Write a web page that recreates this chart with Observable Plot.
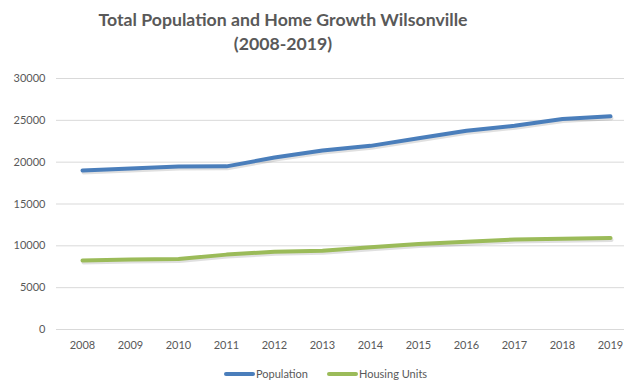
<!DOCTYPE html>
<html>
<head>
<meta charset="utf-8">
<script src="https://cdn.jsdelivr.net/npm/d3@7"></script>
<script src="https://cdn.jsdelivr.net/npm/@observablehq/plot@0.6"></script>
<style>
  html, body { margin: 0; padding: 0; background: #fff; width: 624px; height: 385px; overflow: hidden; }
  #title { position: relative; height: 62px; font-family: Lato, "Open Sans", sans-serif; font-weight: bold; font-size: 17.7px; color: #595959; }
  #title div { position: absolute; left: 283px; transform: translateX(-50%); white-space: nowrap; }
  #legend { position: relative; height: 28px; font-family: Lato, sans-serif; font-size: 11px; color: #595959; }
  .item { position: absolute; top: 10px; display: flex; align-items: center; }
  .sw { width: 31px; height: 4px; border-radius: 2px; margin-right: 1px; }
</style>
</head>
<body>
<div id="title"><div style="top:9px">Total Population and Home Growth Wilsonville</div><div style="top:33px">(2008-2019)</div></div>
<div id="chart"></div>
<div id="legend"></div>
<script>
const years = ["2008","2009","2010","2011","2012","2013","2014","2015","2016","2017","2018","2019"];
const population = [19000, 19250, 19480, 19500, 20550, 21400, 21950, 22850, 23750, 24350, 25150, 25480];
const housing = [8250, 8380, 8420, 8950, 9300, 9420, 9820, 10220, 10500, 10750, 10850, 10950];
const seriesNames = ["Population", "Housing Units"];
const seriesColors = ["#4a7ebb", "#9bbb59"];
const yTicks = [0, 5000, 10000, 15000, 20000, 25000, 30000];

const rows = [];
years.forEach((yr, i) => {
  rows.push({year: yr, value: population[i], series: seriesNames[0]});
  rows.push({year: yr, value: housing[i], series: seriesNames[1]});
});

const plot = Plot.plot({
  width: 624,
  height: 295,
  marginLeft: 56,
  marginRight: 0,
  marginTop: 16,
  marginBottom: 28,
  style: {fontFamily: "Lato, sans-serif", fontSize: "11px", color: "#595959", background: "#fff"},
  x: {type: "point", domain: years, range: [80, 611], padding: 0, label: null},
  y: {domain: [0, 30000], label: null},
  color: {domain: seriesNames, range: seriesColors},
  marks: [
    Plot.gridY(yTicks, {stroke: "#d9d9d9", strokeOpacity: 1, strokeWidth: 1}),
    Plot.axisY(yTicks, {tickSize: 0, tickPadding: 11, tickFormat: d => String(d), fill: "#595959", label: null}),
    Plot.axisX(years, {tickSize: 0, tickPadding: 12, fill: "#595959", label: null}),
    Plot.line(rows, {x: "year", y: "value", z: "series", stroke: "#000", strokeOpacity: 0.12, strokeWidth: 4, dy: 2, dx: 1}),
    Plot.line(rows, {x: "year", y: "value", stroke: "series", strokeWidth: 4, strokeLinecap: "round", strokeLinejoin: "round"})
  ]
});
document.getElementById("chart").appendChild(plot);

const legend = document.getElementById("legend");
const lefts = [224, 327];
seriesNames.forEach((name, i) => {
  const it = document.createElement("div");
  it.className = "item";
  it.style.left = lefts[i] + "px";
  const sw = document.createElement("div");
  sw.className = "sw";
  sw.style.background = seriesColors[i];
  const tx = document.createElement("span");
  tx.textContent = name;
  it.appendChild(sw); it.appendChild(tx);
  legend.appendChild(it);
});
</script>
</body>
</html>
